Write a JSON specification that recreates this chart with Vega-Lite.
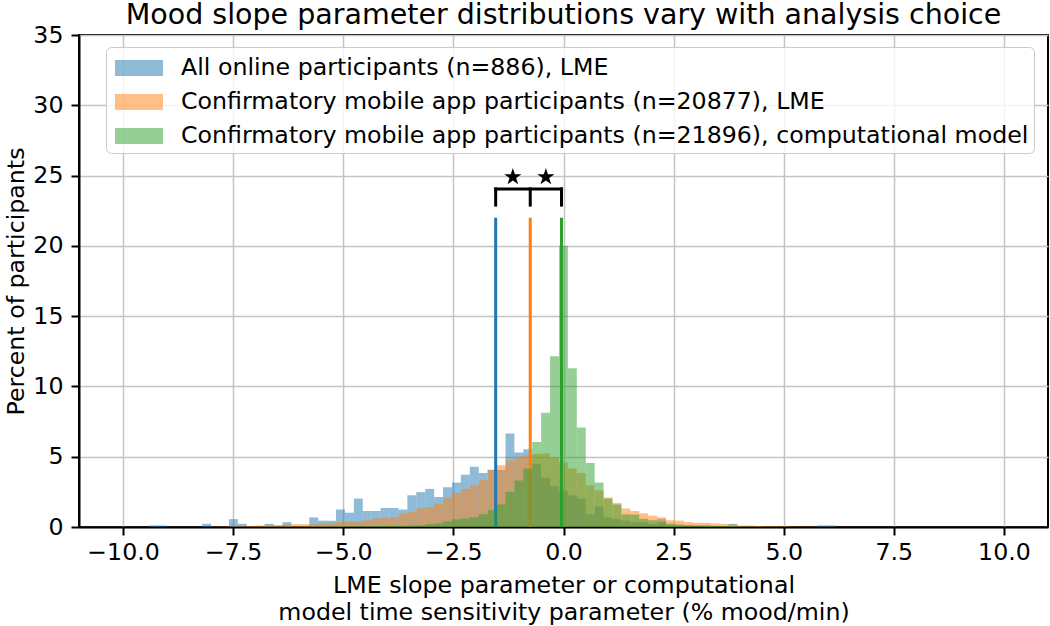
{
  "$schema": "https://vega.github.io/schema/vega-lite/v6.json",
  "width": 969,
  "height": 492,
  "autosize": {"type": "none"},
  "padding": {"left": 79, "top": 35, "right": 2, "bottom": 99},
  "background": "white",
  "title": {"text": "Mood slope parameter distributions vary with analysis choice", "font": "DejaVu Sans", "fontSize": 28.5, "fontWeight": "normal", "color": "black", "anchor": "middle", "baseline": "bottom", "offset": -35},
  "config": {
    "view": {"stroke": "black", "strokeWidth": 2},
    "axis": {"labelFont": "DejaVu Sans", "labelFontSize": 23.7, "labelColor": "black", "titleFont": "DejaVu Sans", "titleFontSize": 23.7, "titleFontWeight": "normal", "titleColor": "black", "tickColor": "black", "tickWidth": 2, "tickSize": 8, "domainColor": "black", "domainWidth": 2, "gridColor": "#c4c4c4", "gridWidth": 1.5, "grid": true, "labelOverlap": false, "zindex": 1}
  },
  "datasets": {
    "bins": [
      {"lo": -9.4175, "hi": -9.215, "a": 0.113, "b": 0, "c": 0},
      {"lo": -9.215, "hi": -9.0125, "a": 0.113, "b": 0, "c": 0},
      {"lo": -8.2025, "hi": -8.0, "a": 0.226, "b": 0, "c": 0},
      {"lo": -8.0, "hi": -7.7975, "a": 0, "b": 0.02, "c": 0},
      {"lo": -7.7975, "hi": -7.595, "a": 0, "b": 0.03, "c": 0},
      {"lo": -7.595, "hi": -7.3925, "a": 0.56, "b": 0.04, "c": 0},
      {"lo": -7.3925, "hi": -7.19, "a": 0.226, "b": 0.05, "c": 0},
      {"lo": -7.19, "hi": -6.9875, "a": 0, "b": 0.07, "c": 0.01},
      {"lo": -6.9875, "hi": -6.785, "a": 0, "b": 0.1, "c": 0.01},
      {"lo": -6.785, "hi": -6.5825, "a": 0.226, "b": 0.1, "c": 0.01},
      {"lo": -6.5825, "hi": -6.38, "a": 0.113, "b": 0.12, "c": 0.02},
      {"lo": -6.38, "hi": -6.1775, "a": 0.34, "b": 0.17, "c": 0.02},
      {"lo": -6.1775, "hi": -5.975, "a": 0, "b": 0.2, "c": 0.02},
      {"lo": -5.975, "hi": -5.7725, "a": 0, "b": 0.2, "c": 0.03},
      {"lo": -5.7725, "hi": -5.57, "a": 0.68, "b": 0.2, "c": 0.03},
      {"lo": -5.57, "hi": -5.3675, "a": 0.45, "b": 0.25, "c": 0.04},
      {"lo": -5.3675, "hi": -5.165, "a": 0.45, "b": 0.3, "c": 0.04},
      {"lo": -5.165, "hi": -4.9625, "a": 1.24, "b": 0.36, "c": 0.05},
      {"lo": -4.9625, "hi": -4.76, "a": 1.02, "b": 0.36, "c": 0.05},
      {"lo": -4.76, "hi": -4.5575, "a": 2.03, "b": 0.4, "c": 0.06},
      {"lo": -4.5575, "hi": -4.355, "a": 1.13, "b": 0.48, "c": 0.06},
      {"lo": -4.355, "hi": -4.1525, "a": 1.13, "b": 0.6, "c": 0.07},
      {"lo": -4.1525, "hi": -3.95, "a": 1.35, "b": 0.67, "c": 0.08},
      {"lo": -3.95, "hi": -3.7475, "a": 1.35, "b": 0.71, "c": 0.08},
      {"lo": -3.7475, "hi": -3.545, "a": 1.24, "b": 0.95, "c": 0.09},
      {"lo": -3.545, "hi": -3.3425, "a": 2.26, "b": 1.07, "c": 0.1},
      {"lo": -3.3425, "hi": -3.14, "a": 2.48, "b": 1.33, "c": 0.12},
      {"lo": -3.14, "hi": -2.9375, "a": 2.71, "b": 1.42, "c": 0.2},
      {"lo": -2.9375, "hi": -2.735, "a": 2.14, "b": 1.66, "c": 0.25},
      {"lo": -2.735, "hi": -2.5325, "a": 2.82, "b": 2.05, "c": 0.4},
      {"lo": -2.5325, "hi": -2.33, "a": 3.16, "b": 2.42, "c": 0.55},
      {"lo": -2.33, "hi": -2.1275, "a": 3.72, "b": 2.7, "c": 0.6},
      {"lo": -2.1275, "hi": -1.925, "a": 4.29, "b": 2.95, "c": 0.7},
      {"lo": -1.925, "hi": -1.7225, "a": 3.84, "b": 3.32, "c": 0.9},
      {"lo": -1.7225, "hi": -1.52, "a": 4.06, "b": 4.08, "c": 1.2},
      {"lo": -1.52, "hi": -1.3175, "a": 4.06, "b": 4.39, "c": 1.6},
      {"lo": -1.3175, "hi": -1.115, "a": 6.66, "b": 4.75, "c": 2.5},
      {"lo": -1.115, "hi": -0.9125, "a": 5.3, "b": 5.0, "c": 3.3},
      {"lo": -0.9125, "hi": -0.71, "a": 5.53, "b": 5.1, "c": 4.16},
      {"lo": -0.71, "hi": -0.5075, "a": 4.5, "b": 5.2, "c": 6.05},
      {"lo": -0.5075, "hi": -0.305, "a": 3.5, "b": 5.22, "c": 8.12},
      {"lo": -0.305, "hi": -0.1025, "a": 2.9, "b": 4.98, "c": 12.15},
      {"lo": -0.1025, "hi": 0.1, "a": 2.6, "b": 4.6, "c": 20.0},
      {"lo": 0.1, "hi": 0.3025, "a": 2.26, "b": 4.16, "c": 11.3},
      {"lo": 0.3025, "hi": 0.505, "a": 2.03, "b": 3.84, "c": 7.07},
      {"lo": 0.505, "hi": 0.7075, "a": 0.9, "b": 2.97, "c": 4.56},
      {"lo": 0.7075, "hi": 0.91, "a": 1.47, "b": 2.61, "c": 3.16},
      {"lo": 0.91, "hi": 1.1125, "a": 0.68, "b": 2.1, "c": 2.02},
      {"lo": 1.1125, "hi": 1.315, "a": 0.56, "b": 1.71, "c": 1.6},
      {"lo": 1.315, "hi": 1.5175, "a": 0.45, "b": 1.31, "c": 0.9},
      {"lo": 1.5175, "hi": 1.72, "a": 0.34, "b": 1.14, "c": 0.88},
      {"lo": 1.72, "hi": 1.9225, "a": 0.34, "b": 0.97, "c": 0.58},
      {"lo": 1.9225, "hi": 2.125, "a": 0.226, "b": 0.8, "c": 0.48},
      {"lo": 2.125, "hi": 2.3275, "a": 0.56, "b": 0.69, "c": 0.36},
      {"lo": 2.3275, "hi": 2.53, "a": 0.113, "b": 0.48, "c": 0.24},
      {"lo": 2.53, "hi": 2.7325, "a": 0.113, "b": 0.45, "c": 0.18},
      {"lo": 2.7325, "hi": 2.935, "a": 0.113, "b": 0.35, "c": 0.13},
      {"lo": 2.935, "hi": 3.1375, "a": 0, "b": 0.3, "c": 0.12},
      {"lo": 3.1375, "hi": 3.34, "a": 0.113, "b": 0.3, "c": 0.1},
      {"lo": 3.34, "hi": 3.5425, "a": 0, "b": 0.25, "c": 0.08},
      {"lo": 3.5425, "hi": 3.745, "a": 0, "b": 0.22, "c": 0.06},
      {"lo": 3.745, "hi": 3.9475, "a": 0.226, "b": 0.18, "c": 0.05},
      {"lo": 3.9475, "hi": 4.15, "a": 0, "b": 0.1, "c": 0.04},
      {"lo": 4.15, "hi": 4.3525, "a": 0, "b": 0.1, "c": 0.03},
      {"lo": 4.3525, "hi": 4.555, "a": 0, "b": 0.07, "c": 0.02},
      {"lo": 4.555, "hi": 4.7575, "a": 0, "b": 0.05, "c": 0.02},
      {"lo": 4.7575, "hi": 4.96, "a": 0, "b": 0.05, "c": 0.01},
      {"lo": 4.96, "hi": 5.1625, "a": 0, "b": 0.04, "c": 0.01},
      {"lo": 5.1625, "hi": 5.365, "a": 0, "b": 0.03, "c": 0},
      {"lo": 5.365, "hi": 5.5675, "a": 0, "b": 0.02, "c": 0},
      {"lo": 5.5675, "hi": 5.77, "a": 0, "b": 0.02, "c": 0},
      {"lo": 5.77, "hi": 5.9725, "a": 0.113, "b": 0.01, "c": 0},
      {"lo": 5.9725, "hi": 6.175, "a": 0.113, "b": 0, "c": 0}
    ],
    "means": [
      {"s": "a", "x": -1.54},
      {"s": "b", "x": -0.755},
      {"s": "c", "x": -0.045}
    ],
    "stars": [
      {"x": -1.15},
      {"x": -0.40}
    ]
  },
  "layer": [
    {
      "data": {"name": "bins"},
      "transform": [{"fold": ["a", "b", "c"], "as": ["s", "pct"]}, {"filter": "datum.s != 'c'"}],
      "mark": {"type": "rect", "opacity": 0.5},
      "encoding": {
        "x": {"field": "lo", "type": "quantitative", "scale": {"domain": [-11, 11], "nice": false, "zero": false},
          "axis": {"values": [-10, -7.5, -5, -2.5, 0, 2.5, 5, 7.5, 10], "labelExpr": "replace(format(datum.value, '.1f'), '-', '\u2212')", "title": ["LME slope parameter or computational", "model time sensitivity parameter (% mood/min)"], "titleLineHeight": 27, "titlePadding": 10, "labelPadding": 5, "labelFlush": false}},
        "x2": {"field": "hi"},
        "y": {"field": "pct", "type": "quantitative", "scale": {"domain": [0, 35], "nice": false},
          "axis": {"values": [0, 5, 10, 15, 20, 25, 30, 35], "format": "d", "title": "Percent of participants", "labelPadding": 8, "titlePadding": 4}},
        "y2": {"datum": 0},
        "color": {"field": "s", "type": "nominal",
          "scale": {"domain": ["a", "b", "c"], "range": ["#1f77b4", "#ff7f0e", "#2ca02c"]},
          "legend": {"orient": "none", "legendX": 27, "legendY": 12, "direction": "vertical", "title": null,
            "labelExpr": "datum.value == 'a' ? 'All online participants (n=886), LME' : datum.value == 'b' ? 'Confirmatory mobile app participants (n=20877), LME' : 'Confirmatory mobile app participants (n=21896), computational model'",
            "labelFont": "DejaVu Sans", "labelFontSize": 23.7, "labelColor": "black", "labelLimit": 1200, "labelOffset": 26,
            "symbolType": "M-1.5,-0.5H1.5V0.5H-1.5Z", "symbolSize": 1024, "symbolOpacity": 0.5, "symbolStrokeWidth": 0, "symbolOffset": 12,
            "fillColor": "rgba(255,255,255,0.8)", "strokeColor": "#cccccc", "cornerRadius": 5, "padding": 5, "rowPadding": 6}}
      }
    },
    {
      "data": {"name": "means"},
      "mark": {"type": "rule", "strokeWidth": 3},
      "encoding": {
        "x": {"field": "x", "type": "quantitative"},
        "y": {"datum": 0},
        "y2": {"datum": 22},
        "color": {"field": "s", "type": "nominal", "legend": null}
      }
    },
    {
      "data": {"name": "bins"},
      "transform": [{"fold": ["a", "b", "c"], "as": ["s", "pct"]}, {"filter": "datum.s == 'c'"}],
      "mark": {"type": "rect", "opacity": 0.5},
      "encoding": {
        "x": {"field": "lo", "type": "quantitative"},
        "x2": {"field": "hi"},
        "y": {"field": "pct", "type": "quantitative"},
        "y2": {"datum": 0},
        "color": {"field": "s", "type": "nominal"}
      }
    },
    {
      "data": {"name": "means"},
      "mark": {"type": "rule", "strokeWidth": 3, "color": "black", "strokeCap": "square"},
      "encoding": {
        "x": {"field": "x", "type": "quantitative"},
        "y": {"datum": 22.9},
        "y2": {"datum": 24.05}
      }
    },
    {
      "data": {"name": "means"},
      "transform": [{"aggregate": [{"op": "min", "field": "x", "as": "x0"}, {"op": "max", "field": "x", "as": "x1"}]}],
      "mark": {"type": "rule", "strokeWidth": 3, "color": "black", "strokeCap": "square"},
      "encoding": {
        "x": {"field": "x0", "type": "quantitative"},
        "x2": {"field": "x1"},
        "y": {"datum": 24.05}
      }
    },
    {
      "data": {"name": "stars"},
      "mark": {"type": "point", "shape": "M0,-1L0.2245,-0.309L0.951,-0.309L0.363,0.118L0.588,0.809L0,0.382L-0.588,0.809L-0.363,0.118L-0.951,-0.309L-0.2245,-0.309Z", "filled": true, "color": "black", "opacity": 1, "size": 330},
      "encoding": {
        "x": {"field": "x", "type": "quantitative"},
        "y": {"datum": 24.9}
      }
    }
  ]
}
